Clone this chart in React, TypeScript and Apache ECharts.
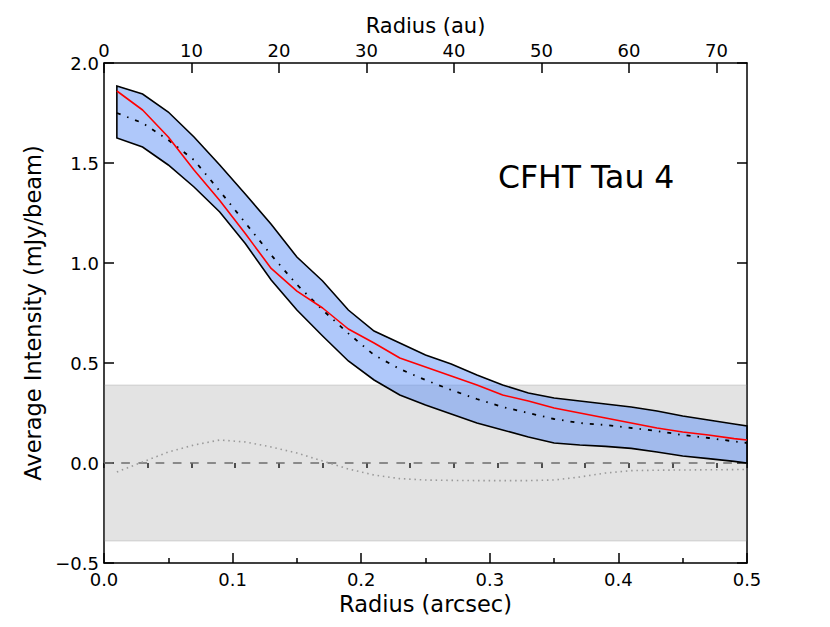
import React, { useEffect, useRef } from "react";
import * as echarts from "echarts";

// Radius samples (arcsec)
const radius = [0.01, 0.03, 0.05, 0.07, 0.09, 0.11, 0.13, 0.15, 0.17, 0.19, 0.21, 0.23, 0.25, 0.27, 0.29, 0.31, 0.33, 0.35, 0.37, 0.39, 0.41, 0.43, 0.45, 0.47, 0.49, 0.5];
// Observed profile uncertainty band (mJy/beam)
const bandUpper = [1.885, 1.845, 1.755, 1.63, 1.49, 1.344, 1.194, 1.03, 0.91, 0.765, 0.66, 0.6, 0.54, 0.495, 0.44, 0.39, 0.35, 0.325, 0.31, 0.295, 0.28, 0.26, 0.235, 0.215, 0.195, 0.185];
const bandLower = [1.625, 1.58, 1.49, 1.38, 1.255, 1.096, 0.915, 0.765, 0.635, 0.51, 0.415, 0.34, 0.29, 0.245, 0.2, 0.165, 0.13, 0.1, 0.09, 0.083, 0.073, 0.055, 0.035, 0.022, 0.008, 0.0];
// Model profile (red)
const modelProfile = [1.86, 1.765, 1.63, 1.465, 1.313, 1.146, 0.973, 0.859, 0.775, 0.67, 0.6, 0.525, 0.48, 0.435, 0.39, 0.34, 0.31, 0.275, 0.25, 0.225, 0.2, 0.175, 0.155, 0.14, 0.122, 0.115];
// Second profile (dash-dot)
const altProfile = [1.75, 1.7, 1.615, 1.515, 1.36, 1.2, 1.04, 0.892, 0.765, 0.648, 0.54, 0.47, 0.415, 0.365, 0.32, 0.28, 0.25, 0.22, 0.2, 0.19, 0.175, 0.16, 0.14, 0.125, 0.108, 0.1];
// Residual (dotted)
const residual = [-0.045, 0.005, 0.055, 0.09, 0.115, 0.105, 0.08, 0.05, 0.01, -0.03, -0.06, -0.078, -0.085, -0.087, -0.088, -0.088, -0.088, -0.085, -0.07, -0.05, -0.038, -0.036, -0.035, -0.034, -0.033, -0.032];
// Noise level band (±)
const noiseLevel = 0.39;
const xRange = [0, 0.5];
const auMax = 73.5;
const yRange = [-0.5, 2.0];
const label = "CFHT Tau 4";

const FONT = "DejaVu Sans";

const fmt1 = (v: number) => v.toFixed(1).replace("-", "\u2212");

export default function App() {
  const ref = useRef<HTMLDivElement>(null);
  useEffect(() => {
    if (!ref.current) return;
    const chart = echarts.init(ref.current, null, { renderer: "svg" });
    const axisLine = { show: true, onZero: false, lineStyle: { color: "#000", width: 1.5 } };
    const tickStyle = { color: "#000", width: 1.5 };
    const option: any = {
      animation: false,
      textStyle: { fontFamily: FONT },
      grid: { left: 104, right: 83, top: 63, bottom: 64, containLabel: false },
      xAxis: [
        {
          type: "value",
          position: "bottom",
          min: xRange[0],
          max: xRange[1],
          interval: 0.1,
          name: "Radius (arcsec)",
          nameLocation: "middle",
          nameGap: 26,
          nameTextStyle: { fontSize: 22.5, color: "#000", fontFamily: FONT },
          axisLine,
          axisTick: { show: true, inside: true, length: 10, lineStyle: tickStyle },
          minorTick: { show: true, splitNumber: 2, length: 5, lineStyle: tickStyle },
          axisLabel: { fontSize: 18, color: "#000", margin: 7, fontFamily: FONT, formatter: (v: number) => fmt1(v), showMinLabel: true, showMaxLabel: true },
          splitLine: { show: false },
        },
        {
          type: "value",
          position: "top",
          min: 0,
          max: auMax,
          interval: 10,
          name: "Radius (au)",
          nameLocation: "middle",
          nameGap: 23,
          nameTextStyle: { fontSize: 21, color: "#000", fontFamily: FONT },
          axisLine,
          axisTick: { show: true, inside: true, length: 10, lineStyle: tickStyle },
          axisLabel: { fontSize: 18, color: "#000", margin: 4, fontFamily: FONT, showMinLabel: true, showMaxLabel: false },
          splitLine: { show: false },
        },
        {
          type: "value",
          position: "top",
          min: 0,
          max: auMax,
          interval: 5,
          axisLine: { show: false },
          axisTick: { show: true, inside: true, length: 5, lineStyle: tickStyle },
          axisLabel: { show: false },
          splitLine: { show: false },
        },
      ],
      yAxis: [
        {
          type: "value",
          position: "left",
          min: yRange[0],
          max: yRange[1],
          interval: 0.5,
          name: "Average Intensity (mJy/beam)",
          nameLocation: "middle",
          nameGap: 55,
          nameTextStyle: { fontSize: 22.5, color: "#000", fontFamily: FONT },
          axisLine,
          axisTick: { show: true, inside: true, length: 10, lineStyle: tickStyle },
          axisLabel: { fontSize: 18, color: "#000", margin: 5, fontFamily: FONT, formatter: (v: number) => fmt1(v), showMinLabel: true, showMaxLabel: true },
          splitLine: { show: false },
        },
        {
          type: "value",
          position: "right",
          min: yRange[0],
          max: yRange[1],
          interval: 0.5,
          axisLine,
          axisTick: { show: true, inside: true, length: 10, lineStyle: tickStyle },
          axisLabel: { show: false },
          splitLine: { show: false },
        },
      ],
      graphic: [
        {
          type: "text",
          x: 498,
          y: 177,
          z: 100,
          style: {
            text: label,
            fontSize: 31.5,
            fontFamily: FONT,
            fill: "#000",
            align: "left",
            verticalAlign: "middle",
            textAlign: "left",
            textVerticalAlign: "middle",
          },
        },
      ],
      series: [
        {
          type: "custom",
          name: "noise",
          z: 1,
          silent: true,
          data: [[xRange[0], -noiseLevel, xRange[1], noiseLevel]],
          encode: { x: [0, 2], y: [1, 3] },
          renderItem: (params: any, api: any) => {
            const p0 = api.coord([api.value(0), api.value(3)]);
            const p1 = api.coord([api.value(2), api.value(1)]);
            return {
              type: "group",
              children: [
                {
                  type: "rect",
                  shape: { x: p0[0], y: p0[1], width: p1[0] - p0[0], height: p1[1] - p0[1] },
                  style: { fill: "rgba(128,128,128,0.22)" },
                },
                {
                  type: "line",
                  shape: { x1: p0[0], y1: p0[1], x2: p1[0], y2: p0[1] },
                  style: { stroke: "rgba(128,128,128,0.18)", lineWidth: 1.5 },
                },
                {
                  type: "line",
                  shape: { x1: p0[0], y1: p1[1], x2: p1[0], y2: p1[1] },
                  style: { stroke: "rgba(128,128,128,0.18)", lineWidth: 1.5 },
                },
              ],
            };
          },
        },
        {
          type: "line",
          name: "zero",
          z: 2,
          silent: true,
          showSymbol: false,
          data: [[xRange[0], 0], [xRange[1], 0]],
          lineStyle: { color: "#6e6e6e", width: 1.7, type: [8.7, 8.5] },
        },
        {
          type: "line",
          name: "residual",
          z: 2,
          silent: true,
          showSymbol: false,
          data: radius.map((r, i) => [r, residual[i]]),
          lineStyle: { color: "#9a9a9a", width: 1.6, type: [1.5, 3.8] },
        },
        {
          type: "custom",
          name: "band",
          z: 3,
          silent: true,
          data: radius.map((r, i) => [r, bandLower[i], bandUpper[i]]),
          encode: { x: 0, y: [1, 2] },
          renderItem: (params: any, api: any) => {
            if (params.dataIndex !== 0) return null;
            const top = radius.map((r, i) => api.coord([r, bandUpper[i]]));
            const bot = radius.map((r, i) => api.coord([r, bandLower[i]])).reverse();
            return {
              type: "polygon",
              shape: { points: top.concat(bot) },
              style: { fill: "rgba(95,145,245,0.5)", stroke: "#000", lineWidth: 1.6, lineJoin: "miter" },
            };
          },
        },
        {
          type: "line",
          name: "alt",
          z: 4,
          silent: true,
          showSymbol: false,
          data: radius.map((r, i) => [r, altProfile[i]]),
          lineStyle: { color: "#000", width: 1.8, type: [4, 7, 1.5, 7] },
        },
        {
          type: "line",
          name: "model",
          z: 5,
          silent: true,
          showSymbol: false,
          data: radius.map((r, i) => [r, modelProfile[i]]),
          lineStyle: { color: "#ff0000", width: 1.6 },
        },
      ],
    };
    chart.setOption(option);
    return () => chart.dispose();
  }, []);
  return (
    <div
      ref={ref}
      style={{ position: "absolute", left: 0, top: 0, width: 830, height: 627, background: "#fff" }}
    />
  );
}
